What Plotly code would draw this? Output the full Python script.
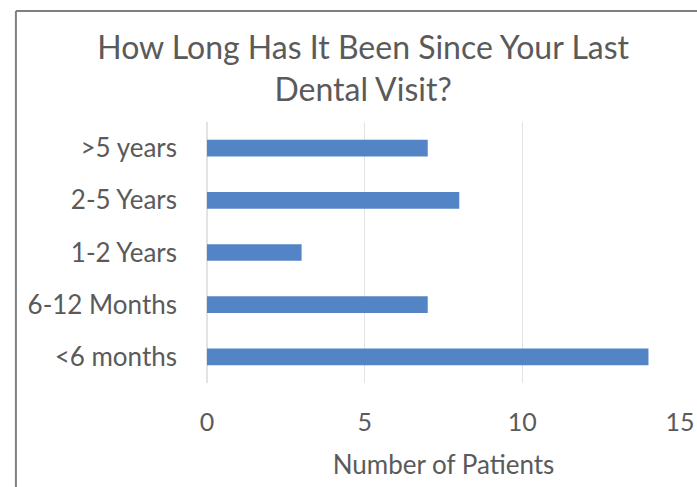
import plotly.graph_objects as go

categories = ["<6 months", "6-12 Months", "1-2 Years", "2-5 Years", ">5 years"]
patients = [14, 7, 3, 8, 7]
tick_vals = [0, 5, 10, 15]
tick_text = ["0", "5", "10", "15"]

TEXT = "#5a5a5a"
FONT = "Lato"

fig = go.Figure(
    go.Bar(
        x=patients,
        y=categories,
        orientation="h",
        marker=dict(color="#5385c6", line=dict(width=0)),
        width=0.32,
    )
)

fig.update_layout(
    width=697,
    height=487,
    margin=dict(l=207, r=17, t=122, b=104),
    paper_bgcolor="white",
    plot_bgcolor="white",
    showlegend=False,
    title=dict(
        text="How Long Has It Been Since Your Last<br>Dental Visit?",
        x=0.521,
        xanchor="center",
        y=0.879,
        yanchor="middle",
        font=dict(family=FONT, size=32, color=TEXT),
    ),
    font=dict(family=FONT, color=TEXT),
)

fig.update_xaxes(
    range=[0, 15],
    tickvals=tick_vals,
    ticktext=tick_text,
    showgrid=True,
    gridcolor="#e3e3e3",
    gridwidth=1,
    zeroline=True,
    zerolinecolor="#e3e3e3",
    showline=False,
    ticks="",
    tickfont=dict(family=FONT, size=25, color=TEXT),
    ticklabelstandoff=22,
    title=dict(text="Number of Patients", font=dict(family=FONT, size=26, color=TEXT), standoff=20),
    automargin=False,
    fixedrange=True,
)

fig.update_yaxes(
    categoryorder="array",
    categoryarray=categories,
    showgrid=False,
    showline=False,
    ticks="",
    tickfont=dict(family=FONT, size=26, color=TEXT),
    ticklabelstandoff=29,
    automargin=False,
    fixedrange=True,
)

# Chart frame: the visible left and top edges
fig.add_shape(type="line", xref="paper", yref="paper",
              x0=-0.404, x1=-0.404, y0=-0.5, y1=1.425,
              line=dict(color="#7f7f7f", width=2))
fig.add_shape(type="line", xref="paper", yref="paper",
              x0=-0.404, x1=1.1, y0=1.425, y1=1.425,
              line=dict(color="#7f7f7f", width=2))

fig.write_html("out.html")
